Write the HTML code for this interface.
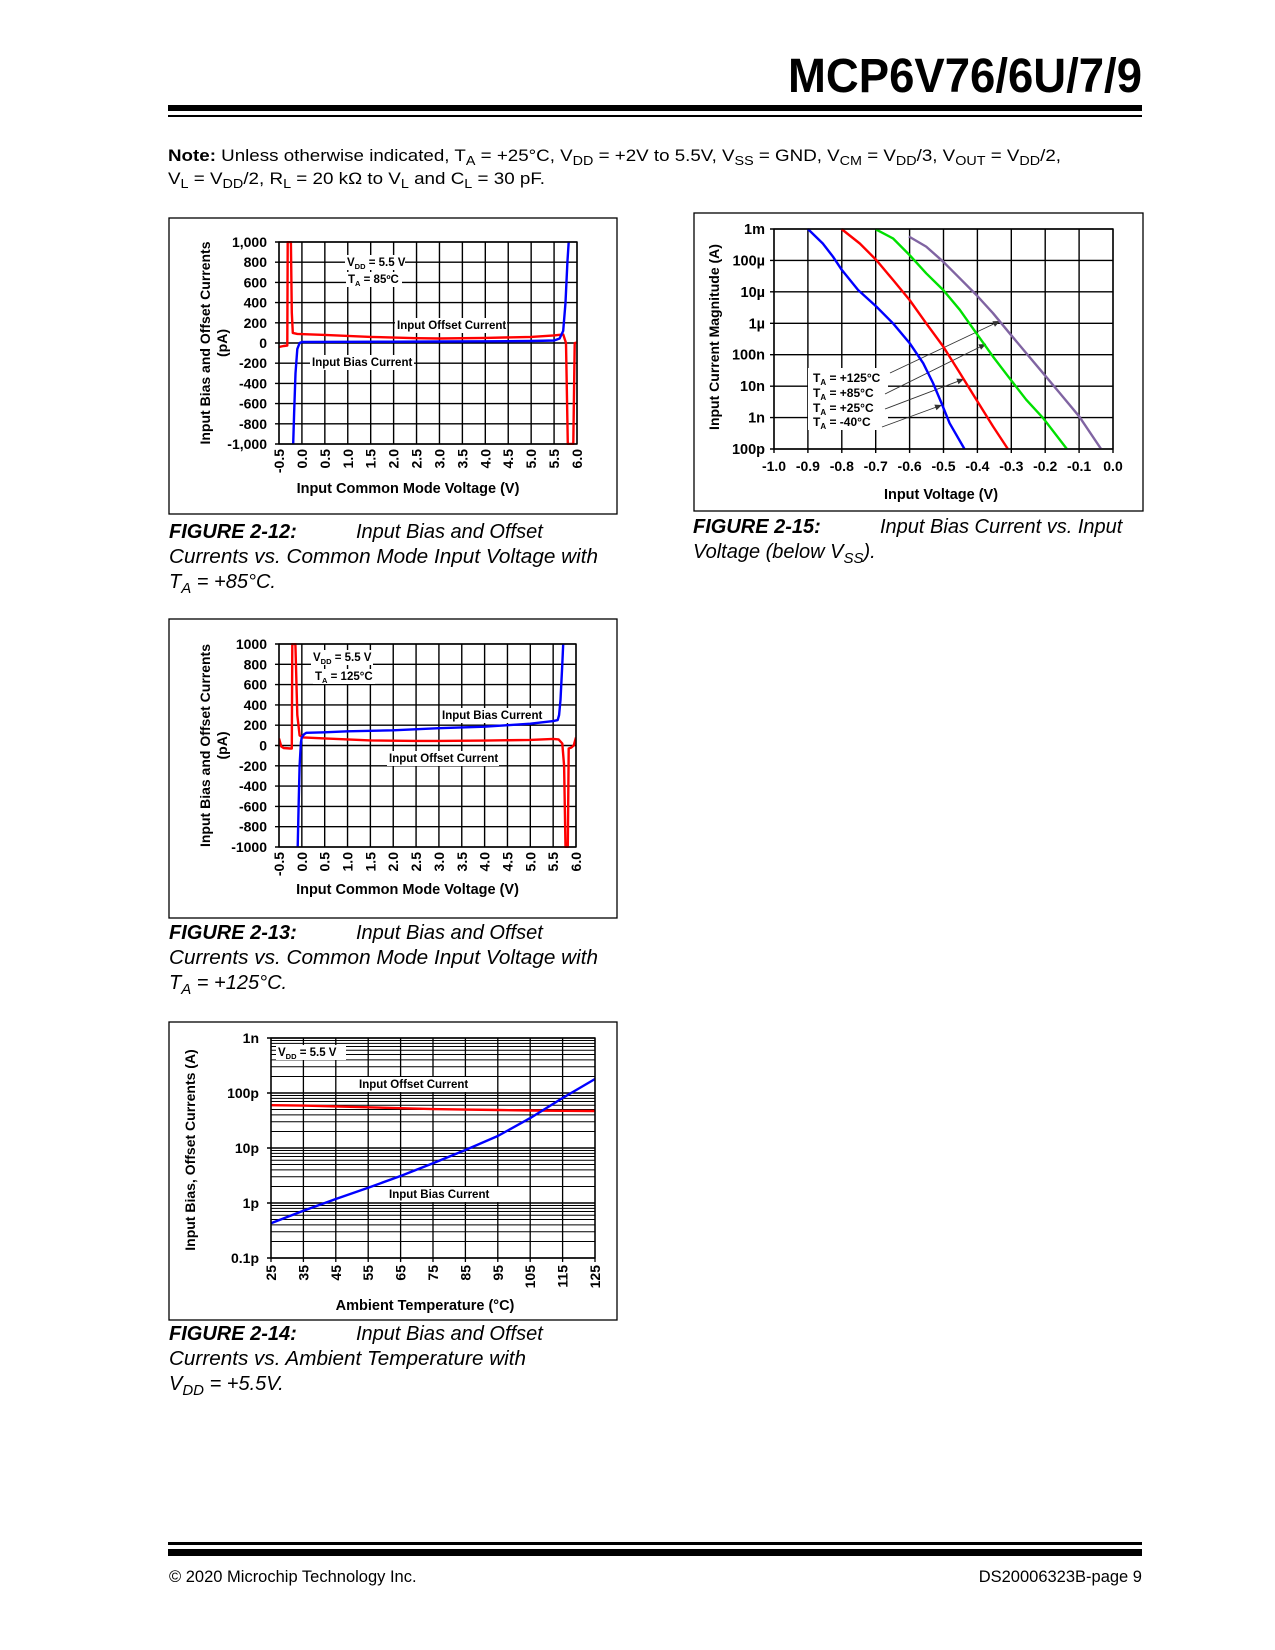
<!DOCTYPE html>
<html><head><meta charset="utf-8"><style>
html,body{margin:0;padding:0;background:#fff}
svg{display:block;font-family:"Liberation Sans",Arial,sans-serif}
.b{font-weight:bold}
</style></head><body>
<svg id="page" width="1275" height="1650" viewBox="0 0 1275 1650" xmlns="http://www.w3.org/2000/svg">
<rect x="0" y="0" width="1275" height="1650" fill="#fff"/>
<text x="1142" y="92" text-anchor="end" font-size="48" font-weight="bold" textLength="354" lengthAdjust="spacingAndGlyphs">MCP6V76/6U/7/9</text>
<rect x="168" y="105" width="974" height="6" fill="#000"/>
<rect x="168" y="115" width="974" height="2" fill="#000"/>
<text x="168" y="161" font-size="17" textLength="893" lengthAdjust="spacingAndGlyphs"><tspan font-weight="bold">Note:</tspan> Unless otherwise indicated, T<tspan dy="4" font-size="13">A</tspan><tspan dy="-4"> = +25°C, V</tspan><tspan dy="4" font-size="13">DD</tspan><tspan dy="-4"> = +2V to 5.5V, V</tspan><tspan dy="4" font-size="13">SS</tspan><tspan dy="-4"> = GND, V</tspan><tspan dy="4" font-size="13">CM</tspan><tspan dy="-4"> = V</tspan><tspan dy="4" font-size="13">DD</tspan><tspan dy="-4">/3, V</tspan><tspan dy="4" font-size="13">OUT</tspan><tspan dy="-4"> = V</tspan><tspan dy="4" font-size="13">DD</tspan><tspan dy="-4">/2,</tspan></text>
<text x="168" y="184" font-size="17" textLength="377" lengthAdjust="spacingAndGlyphs">V<tspan dy="4" font-size="13">L</tspan><tspan dy="-4"> = V</tspan><tspan dy="4" font-size="13">DD</tspan><tspan dy="-4">/2, R</tspan><tspan dy="4" font-size="13">L</tspan><tspan dy="-4"> = 20 kΩ to V</tspan><tspan dy="4" font-size="13">L</tspan><tspan dy="-4"> and C</tspan><tspan dy="4" font-size="13">L</tspan><tspan dy="-4"> = 30 pF.</tspan></text>

<g id="c12"></g>
<g id="c13"></g>
<g id="c14"></g>
<g id="c15"></g>

<g font-size="20" font-style="italic">
<text x="169" y="538" font-weight="bold">FIGURE 2-12:</text>
<text x="356" y="538">Input Bias and Offset</text>
<text x="169" y="563" textLength="429" lengthAdjust="spacingAndGlyphs">Currents vs. Common Mode Input Voltage with</text>
<text x="169" y="588">T<tspan dy="5" font-size="15">A</tspan><tspan dy="-5"> = +85°C.</tspan></text>
</g>
<g font-size="20" font-style="italic">
<text x="169" y="939" font-weight="bold">FIGURE 2-13:</text>
<text x="356" y="939">Input Bias and Offset</text>
<text x="169" y="964" textLength="429" lengthAdjust="spacingAndGlyphs">Currents vs. Common Mode Input Voltage with</text>
<text x="169" y="989">T<tspan dy="5" font-size="15">A</tspan><tspan dy="-5"> = +125°C.</tspan></text>
</g>
<g font-size="20" font-style="italic">
<text x="169" y="1340" font-weight="bold">FIGURE 2-14:</text>
<text x="356" y="1340">Input Bias and Offset</text>
<text x="169" y="1365" textLength="357" lengthAdjust="spacingAndGlyphs">Currents vs. Ambient Temperature with</text>
<text x="169" y="1390">V<tspan dy="5" font-size="15">DD</tspan><tspan dy="-5"> = +5.5V.</tspan></text>
</g>
<g font-size="20" font-style="italic">
<text x="693" y="533" font-weight="bold">FIGURE 2-15:</text>
<text x="880" y="533">Input Bias Current vs. Input</text>
<text x="693" y="558">Voltage (below V<tspan dy="5" font-size="15">SS</tspan><tspan dy="-5">).</tspan></text>
</g>

<rect x="168" y="1542" width="974" height="3" fill="#000"/>
<rect x="168" y="1549" width="974" height="7" fill="#000"/>
<text x="169" y="1582" font-size="16.5">© 2020 Microchip Technology Inc.</text>
<text x="1142" y="1582" font-size="16.5" text-anchor="end">DS20006323B-page 9</text>
</svg>
<script>
const NS='http://www.w3.org/2000/svg';
// ---- Figure 2-12 data ----
const c12_xTicks=[-0.5,0,0.5,1,1.5,2,2.5,3,3.5,4,4.5,5,5.5,6];
const c12_xLabels=['-0.5','0.0','0.5','1.0','1.5','2.0','2.5','3.0','3.5','4.0','4.5','5.0','5.5','6.0'];
const c12_yTicks=[-1000,-800,-600,-400,-200,0,200,400,600,800,1000];
const c12_yLabels=['-1,000','-800','-600','-400','-200','0','200','400','600','800','1,000'];
const c12_biasV=[-0.19,-0.17,-0.14,-0.1,-0.05,0,1,2,3,4,5,5.5,5.62,5.7,5.75,5.79,5.82];
const c12_biasI=[-1000,-700,-300,-60,0,10,12,13,15,17,20,25,45,120,400,800,1000];
const c12_offV=[-0.5,-0.4,-0.32,-0.31,-0.29,-0.24,-0.22,-0.2,-0.1,0.5,1.5,2.5,3,4,5,5.5,5.7,5.76,5.8,5.84,5.92,5.95,6.0];
const c12_offI=[-40,-30,-25,1000,1000,1000,300,100,90,80,60,48,45,50,60,75,85,0,-1000,-1000,-1000,0,5];
// ---- Figure 2-13 data ----
const c13_xTicks=c12_xTicks.slice();
const c13_xLabels=c12_xLabels.slice();
const c13_yTicks=[-1000,-800,-600,-400,-200,0,200,400,600,800,1000];
const c13_yLabels=['-1000','-800','-600','-400','-200','0','200','400','600','800','1000'];
const c13_biasV=[-0.09,-0.07,-0.05,-0.02,0,0.05,0.1,0.5,1,2,3,4,4.5,5,5.5,5.6,5.63,5.66,5.7,5.72];
const c13_biasI=[-1000,-600,-200,30,80,110,125,130,140,150,170,185,200,215,240,250,300,450,800,1000];
const c13_offV=[-0.5,-0.45,-0.4,-0.25,-0.22,-0.21,-0.18,-0.14,-0.1,-0.05,0.03,0.5,1.5,2.5,3,4,5,5.5,5.62,5.7,5.74,5.77,5.82,5.84,5.9,5.95,6.0];
const c13_offI=[70,-10,-25,-30,-30,1000,1000,1000,300,100,80,70,50,45,45,48,55,65,60,20,-200,-1000,-1000,-30,-20,0,80];
// ---- Figure 2-14 data ----
const c14_xTicks=[25,35,45,55,65,75,85,95,105,115,125];
const c14_xLabels=['25','35','45','55','65','75','85','95','105','115','125'];
const c14_yTicks=[1e-13,1e-12,1e-11,1e-10,1e-9];
const c14_yLabels=['0.1p','1p','10p','100p','1n'];
const c14_temp=[25,35,45,55,65,75,85,95,105,115,125];
const c14_offset=[60e-12,59e-12,57e-12,55e-12,53e-12,51e-12,50e-12,49e-12,48e-12,47.5e-12,47e-12];
const c14_bias=[0.43e-12,0.72e-12,1.18e-12,1.9e-12,3.1e-12,5.3e-12,9.2e-12,16.5e-12,35e-12,81e-12,180e-12];
// ---- Figure 2-15 data ----
const c15_xTicks=[-1.0,-0.9,-0.8,-0.7,-0.6,-0.5,-0.4,-0.3,-0.2,-0.1,0.0];
const c15_xLabels=['-1.0','-0.9','-0.8','-0.7','-0.6','-0.5','-0.4','-0.3','-0.2','-0.1','0.0'];
const c15_yTicks=[-10,-9,-8,-7,-6,-5,-4,-3];
const c15_yLabels=['100p','1n','10n','100n','1µ','10µ','100µ','1m'];
const c15_m40V=[-0.9,-0.856,-0.826,-0.8,-0.752,-0.698,-0.649,-0.6,-0.56,-0.531,-0.506,-0.482,-0.438];
const c15_m40L=[-3,-3.46,-3.88,-4.3,-4.94,-5.47,-6.0,-6.63,-7.27,-7.9,-8.54,-9.18,-10];
const c15_p25V=[-0.801,-0.747,-0.698,-0.649,-0.6,-0.551,-0.501,-0.452,-0.403,-0.354,-0.31];
const c15_p25L=[-3,-3.46,-3.99,-4.62,-5.26,-6.0,-6.74,-7.58,-8.43,-9.28,-10];
const c15_p85V=[-0.7,-0.649,-0.6,-0.551,-0.501,-0.452,-0.403,-0.354,-0.305,-0.256,-0.206,-0.136];
const c15_p85L=[-3.01,-3.3,-3.83,-4.41,-4.94,-5.57,-6.32,-7.06,-7.75,-8.43,-9.02,-10];
const c15_p125V=[-0.602,-0.551,-0.501,-0.452,-0.403,-0.354,-0.305,-0.256,-0.206,-0.157,-0.1,-0.035];
const c15_p125L=[-3.24,-3.56,-4.04,-4.57,-5.1,-5.68,-6.32,-6.95,-7.59,-8.22,-8.96,-10];

function el(tag,parent){const e=document.createElementNS(NS,tag);parent.appendChild(e);return e;}
function line(p,x1,y1,x2,y2,w,c){const e=el('line',p);e.setAttribute('x1',x1);e.setAttribute('y1',y1);e.setAttribute('x2',x2);e.setAttribute('y2',y2);e.setAttribute('stroke',c||'#000');e.setAttribute('stroke-width',w);return e;}
function txt(p,x,y,s,size,anchor,bold){const e=el('text',p);e.setAttribute('x',x);e.setAttribute('y',y);e.setAttribute('font-size',size);if(anchor)e.setAttribute('text-anchor',anchor);if(bold)e.setAttribute('font-weight','bold');e.textContent=s;return e;}
function rect(p,x,y,w,h,fill,stroke,sw){const e=el('rect',p);e.setAttribute('x',x);e.setAttribute('y',y);e.setAttribute('width',w);e.setAttribute('height',h);e.setAttribute('fill',fill);if(stroke){e.setAttribute('stroke',stroke);e.setAttribute('stroke-width',sw);}return e;}
function poly(p,xs,ys,fx,fy,color,w,clip){const e=el('polyline',p);e.setAttribute('points',xs.map((v,i)=>fx(v).toFixed(1)+','+fy(ys[i]).toFixed(1)).join(' '));e.setAttribute('fill','none');e.setAttribute('stroke',color);e.setAttribute('stroke-width',w);e.setAttribute('stroke-linejoin','round');if(clip)e.setAttribute('clip-path','url(#'+clip+')');return e;}
function clipRect(id,x,y,w,h){let d=document.getElementById('defs');if(!d){d=el('defs',document.getElementById('page'));d.id='defs';}const c=el('clipPath',d);c.id=id;rect(c,x,y,w,h,'#000');}
function rotLabel(p,x,y,s,size){const t=txt(p,x+5,y,s,size,'end',true);t.setAttribute('transform','rotate(-90 '+(x+5)+' '+y+')');return t;}
function rotTitle(p,x,y,s,size){const t=txt(p,x,y,s,size,'middle',true);t.setAttribute('transform','rotate(-90 '+x+' '+y+')');return t;}
function annot(p,x,y,w,s,size){const r=rect(p,x-2,y-11,w,15,'#fff');const t=txt(p,x,y,s,size,null,true);return t;}

/* ---------- Figure 2-12 / 2-13 (linear CMV charts) ---------- */
function cmvChart(id,F,P,xT,xL,yT,yL,bV,bI,oV,oI,ann){
  const g=document.getElementById(id);
  const fr=rect(g,F[0],F[1],F[2]-F[0],F[3]-F[1],'#fff','#000',1.3);
  
  
  const [x0,x1,yt,yb]=P;
  const fx=v=>x0+(v-xT[0])/(xT[xT.length-1]-xT[0])*(x1-x0);
  const fy=v=>yb-(v-yT[0])/(yT[yT.length-1]-yT[0])*(yb-yt);
  const grid=el('g',g);
  
  
  xT.forEach(v=>line(grid,fx(v),yt,fx(v),yb,1.4));
  yT.forEach(v=>line(grid,x0-4,fy(v),x1,fy(v),1.4));
  const yl=el('g',g);
  
  
  yT.forEach((v,i)=>txt(yl,x0-12,fy(v)+5,yL[i],14,'end',true));
  const xl=el('g',g);
  
  
  xT.forEach((v,i)=>rotLabel(xl,fx(v),yb+5,xL[i],14));
  const xt=txt(g,(x0+x1)/2-20,ann.xTitleY,'Input Common Mode Voltage (V)',14.5,'middle',true);
  
  
  const yt1=rotTitle(g,210,(yt+yb)/2,'Input Bias and Offset Currents',14);
  
  
  const yt2=rotTitle(g,227,(yt+yb)/2,'(pA)',14);
  
  
  const an=el('g',g);
  
  
  ann.items.forEach(a=>{
    if(a.sub){rect(an,a.x-2,a.y-11,a.w,15,'#fff');const t=txt(an,a.x,a.y,a.s1,11.5,null,true);const s=el('tspan',t);s.setAttribute('font-size','7.5');s.setAttribute('dy','3');s.textContent=a.sub;const s2=el('tspan',t);s2.setAttribute('dy','-3');s2.textContent=a.s2;}
    else annot(an,a.x,a.y,a.w,a.s,11.5);
  });
  clipRect(id+'clip',x0,yt-1,x1-x0,yb-yt+2);
  const off=poly(g,oV,oI,fx,fy,'#ff0000',2.4,id+'clip');
  
  
  const bias=poly(g,bV,bI,fx,fy,'#0000ff',2.4,id+'clip');
  
  
  const pb=rect(g,x0,yt,x1-x0,yb-yt,'none','#000',1.4);
  
  
}
cmvChart('c12',[169,218,617,514],[279,577,242,444],c12_xTicks,c12_xLabels,c12_yTicks,c12_yLabels,c12_biasV,c12_biasI,c12_offV,c12_offI,
 {xTitleY:493,items:[
  {x:347,y:266,w:60,s1:'V',sub:'DD',s2:' = 5.5 V'},
  {x:348,y:283,w:56,s1:'T',sub:'A',s2:' = 85ºC'},
  {x:397,y:329,w:112,s:'Input Offset Current'},
  {x:312,y:366,w:104,s:'Input Bias Current'}]});
cmvChart('c13',[169,619,617,918],[279,576,644,847],c13_xTicks,c13_xLabels,c13_yTicks,c13_yLabels,c13_biasV,c13_biasI,c13_offV,c13_offI,
 {xTitleY:894,items:[
  {x:313,y:661,w:62,s1:'V',sub:'DD',s2:' = 5.5 V'},
  {x:315,y:680,w:62,s1:'T',sub:'A',s2:' = 125°C'},
  {x:442,y:719,w:104,s:'Input Bias Current'},
  {x:389,y:762,w:112,s:'Input Offset Current'}]});

/* ---------- Figure 2-14 (log temperature chart) ---------- */
(function(){
  const g=document.getElementById('c14');
  const fr=rect(g,169,1022,448,298,'#fff','#000',1.3);
  
  
  const x0=271,x1=595,yt=1038,yb=1258;
  const lmin=Math.log10(c14_yTicks[0]),lmax=Math.log10(c14_yTicks[c14_yTicks.length-1]);
  const fx=v=>x0+(v-c14_xTicks[0])/(c14_xTicks[c14_xTicks.length-1]-c14_xTicks[0])*(x1-x0);
  const fy=v=>yb-(Math.log10(v)-lmin)/(lmax-lmin)*(yb-yt);
  const grid=el('g',g);
  
  
  c14_xTicks.forEach(v=>line(grid,fx(v),yt,fx(v),yb+4,1.3));
  for(let d=0;d<c14_yTicks.length-1;d++){for(let k=1;k<10;k++){const v=c14_yTicks[d]*k;line(grid,k==1?x0-4:x0,fy(v),x1,fy(v),k==1?1.4:1);}}
  line(grid,x0-4,fy(c14_yTicks[c14_yTicks.length-1]),x1,fy(c14_yTicks[c14_yTicks.length-1]),1.4);
  const yl=el('g',g);
  
  
  c14_yTicks.forEach((v,i)=>txt(yl,x0-12,fy(v)+5,c14_yLabels[i],14,'end',true));
  const xl=el('g',g);
  
  
  c14_xTicks.forEach((v,i)=>rotLabel(xl,fx(v),yb+7,c14_xLabels[i],14));
  const xt=txt(g,425,1310,'Ambient Temperature (°C)',14.5,'middle',true);
  
  
  const yt1=rotTitle(g,195,1150,'Input Bias, Offset Currents (A)',14);
  
  
  const an=el('g',g);
  
  
  rect(an,276,1045,70,15,'#fff');
  const t=txt(an,278,1056,'V',11.5,null,true);const s=el('tspan',t);s.setAttribute('font-size','7.5');s.setAttribute('dy','3');s.textContent='DD';const s2=el('tspan',t);s2.setAttribute('dy','-3');s2.textContent=' = 5.5 V';
  annot(an,359,1088,124,'Input Offset Current',11.5);
  annot(an,389,1198,112,'Input Bias Current',11.5);
  const off=poly(g,c14_temp,c14_offset,fx,fy,'#ff0000',2.4);
  
  
  const bias=poly(g,c14_temp,c14_bias,fx,fy,'#0000ff',2.4);
  
  
  const pb=rect(g,x0,yt,x1-x0,yb-yt,'none','#000',1.4);
  
  
})();

/* ---------- Figure 2-15 (log input-voltage chart) ---------- */
(function(){
  const g=document.getElementById('c15');
  const fr=rect(g,694,213,449,298,'#fff','#000',1.3);
  
  
  const x0=774,x1=1113,yt=229,yb=449;
  const fx=v=>x0+(v-c15_xTicks[0])/(c15_xTicks[c15_xTicks.length-1]-c15_xTicks[0])*(x1-x0);
  const fy=v=>yb-(v-c15_yTicks[0])/(c15_yTicks[c15_yTicks.length-1]-c15_yTicks[0])*(yb-yt);
  const grid=el('g',g);
  
  
  c15_xTicks.forEach(v=>line(grid,fx(v),yt,fx(v),yb+4,1.4));
  c15_yTicks.forEach(v=>line(grid,x0-4,fy(v),x1,fy(v),1.4));
  const yl=el('g',g);
  
  
  c15_yTicks.forEach((v,i)=>txt(yl,x0-9,fy(v)+5,c15_yLabels[i],14.5,'end',true));
  const xl=el('g',g);
  
  
  c15_xTicks.forEach((v,i)=>txt(xl,fx(v),471,c15_xLabels[i],14,'middle',true));
  const xt=txt(g,941,499,'Input Voltage (V)',14.5,'middle',true);
  
  
  const yt1=rotTitle(g,719,337,'Input Current Magnitude (A)',14);
  
  
  const an=el('g',g);
  
  
  rect(an,808,368,80,62,'#fff');
  const labs=[['T','A',' = +125°C',382],['T','A',' = +85°C',397],['T','A',' = +25°C',412],['T','A',' = -40°C',426]];
  labs.forEach(l=>{const t=txt(an,813,l[3],l[0],12,null,true);const s=el('tspan',t);s.setAttribute('font-size','8');s.setAttribute('dy','3');s.textContent=l[1];const s2=el('tspan',t);s2.setAttribute('dy','-3');s2.textContent=l[2];});
  const arrows=[[890,373,1000,321],[885,394,986,344],[885,409,964,379],[882,427,942,405]];
  arrows.forEach(a=>{line(an,a[0],a[1],a[2],a[3],0.9,'#333');const ang=Math.atan2(a[3]-a[1],a[2]-a[0]);const p=el('polygon',an);const L=7,W=3;const bx=a[2]-L*Math.cos(ang),by=a[3]-L*Math.sin(ang);p.setAttribute('points',a[2]+','+a[3]+' '+(bx-W*Math.sin(ang))+','+(by+W*Math.cos(ang))+' '+(bx+W*Math.sin(ang))+','+(by-W*Math.cos(ang)));p.setAttribute('fill','#333');});
  const series=[[c15_m40V,c15_m40L,'#0000ff','curve-minus-40c'],[c15_p25V,c15_p25L,'#ff0000','curve-plus-25c'],[c15_p85V,c15_p85L,'#00e000','curve-plus-85c'],[c15_p125V,c15_p125L,'#8064a2','curve-plus-125c']];
  series.forEach(s=>{const p=poly(g,s[0],s[1],fx,fy,s[2],2.4);
    
    });
  const pb=rect(g,x0,yt,x1-x0,yb-yt,'none','#000',1.4);
  
  
})();
</script>
</body></html>
